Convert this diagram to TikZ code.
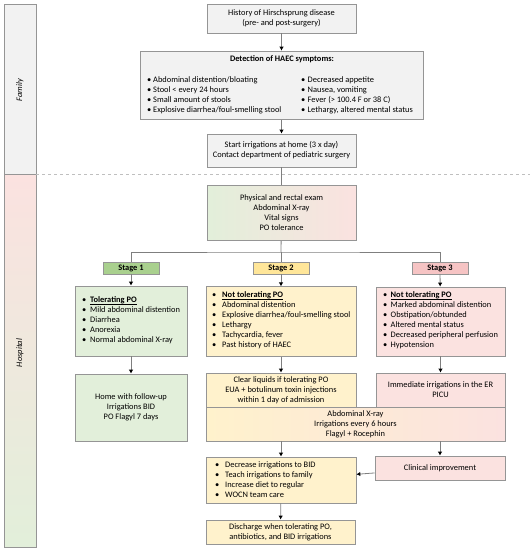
\documentclass[tikz,border=0pt]{standalone}
\usepackage{fontspec}
\setmainfont{Carlito}
\usepackage{tikz}
\usetikzlibrary{arrows.meta}
\usepackage{xcolor}
\definecolor{linegray}{HTML}{7F7F7F}
\definecolor{edgegray}{HTML}{959595}
\definecolor{grayfill}{HTML}{F2F2F2}
\definecolor{greenfill}{HTML}{E2EFDA}
\definecolor{yellowfill}{HTML}{FFF2CC}
\definecolor{redfill}{HTML}{FBE2E0}
\definecolor{stageone}{HTML}{A9D08E}
\definecolor{stagetwo}{HTML}{FFE699}
\definecolor{stagethree}{HTML}{F6C4C4}
\newcommand{\itemdot}[1][8pt]{\makebox[#1][l]{\textbullet}}
\newcommand{\headpo}[1]{\underline{\smash{\textbf{#1}}}}

\begin{document}
\begin{tikzpicture}[x=1pt, y=-1pt,
  txt/.style={font=\fontsize{8.4}{9.95}\selectfont},
  pbox/.style={txt, draw=edgegray, line width=0.7pt, inner ysep=0pt, align=center},
  list/.style={txt, anchor=west, align=left, inner sep=0pt},
  stagelabel/.style={pbox, font=\fontsize{8.4}{9.95}\selectfont\bfseries, minimum width=56pt, minimum height=12pt},
  link/.style={draw=linegray, line width=0.8pt},
  flow/.style={link, -{Latex[length=4pt,width=4.5pt,color=black]}}]
\useasboundingbox (0,0) rectangle (530,550);

\draw[draw=edgegray, fill=grayfill] (4,4) rectangle (36,174);
\draw[draw=edgegray, top color=redfill, middle color=yellowfill, bottom color=greenfill] (4,174) rectangle (36,547);
\draw[gray!50, dashed, line width=0.7pt] (36,174) -- (530,174);
\node[txt, rotate=90, font=\fontsize{8.4}{9.95}\selectfont\itshape] (family) at (20,90) {Family};
\node[txt, rotate=90, font=\fontsize{8.4}{9.95}\selectfont\itshape] (hospital) at (20,353) {Hospital};

\node[pbox, fill=grayfill, minimum width=149pt, minimum height=28.5pt] (hist) at (281.5,18.7)
  {History of Hirschsprung disease\\(pre- and post-surgery)};
\node[pbox, fill=grayfill, minimum width=283pt, minimum height=68.5pt] (detect) at (281.5,85.3) {};
\node[txt, font=\fontsize{8.4}{9.95}\selectfont\bfseries, inner sep=0] (dettitle) at (282,59.5) {Detection of HAEC symptoms:};
\node[list] (detleft) at (147,95.5)
  {\itemdot[6pt]Abdominal distention/bloating\\\itemdot[6pt]Stool < every 24 hours\\
   \itemdot[6pt]Small amount of stools\\\itemdot[6pt]Explosive diarrhea/foul-smelling stool};
\node[list] (detright) at (301,95.5)
  {\itemdot[6.5pt]Decreased appetite\\\itemdot[6.5pt]Nausea, vomiting\\
   \itemdot[6.5pt]Fever (> 100.4 F or 38 C)\\\itemdot[6.5pt]Lethargy, altered mental status};
\node[pbox, fill=grayfill, minimum width=149pt, minimum height=33pt] (start) at (281.5,150.5)
  {Start irrigations at home (3 x day)\\Contact department of pediatric surgery};
\node[pbox, left color=greenfill, middle color=yellowfill, right color=redfill, minimum width=149pt, minimum height=55.5pt] (phys) at (281.5,213)
  {Physical and rectal exam\\Abdominal X-ray\\Vital signs\\PO tolerance};
\coordinate (branch) at (281,252);

\node[stagelabel, fill=stageone] (stage1) at (131,268) {Stage 1};
\node[stagelabel, fill=stagetwo] (stage2) at (281,268) {Stage 2};
\node[stagelabel, fill=stagethree] (stage3) at (440,268) {Stage 3};

\node[pbox, fill=greenfill, minimum width=112pt, minimum height=70pt] (s1box) at (131,321) {};
\node[list] (s1text) at (82,321)
  {\itemdot\headpo{Tolerating PO}\\\itemdot Mild abdominal distention\\\itemdot Diarrhea\\
   \itemdot Anorexia\\\itemdot Normal abdominal X-ray};
\node[pbox, fill=greenfill, minimum width=112pt, minimum height=67pt] (home) at (131,407.5)
  {Home with follow-up\\Irrigations BID\\PO Flagyl 7 days};

\node[pbox, fill=yellowfill, minimum width=150pt, minimum height=69.5pt] (s2box) at (281,321.5) {};
\node[list] (s2text) at (212,321.5)
  {\itemdot[10pt]\headpo{Not tolerating PO}\\\itemdot[10pt]Abdominal distention\\\itemdot[10pt]Explosive diarrhea/foul-smelling stool\\
   \itemdot[10pt]Lethargy\\\itemdot[10pt]Tachycardia, fever\\\itemdot[10pt]Past history of HAEC};
\node[pbox, left color=yellowfill, right color=redfill, minimum width=299pt, minimum height=34pt] (combo) at (355.5,424)
  {Abdominal X-ray\\Irrigations every 6 hours\\Flagyl + Rocephin};
\node[pbox, fill=yellowfill, minimum width=150pt, minimum height=34pt] (clear) at (281,390)
  {Clear liquids if tolerating PO\\EUA + botulinum toxin injections\\within 1 day of admission};

\node[pbox, fill=redfill, minimum width=129pt, minimum height=69pt] (s3box) at (440.5,321.5) {};
\node[list] (s3text) at (383,321.5)
  {\itemdot[7.5pt]\headpo{Not tolerating PO}\\\itemdot[7.5pt]Marked abdominal distention\\\itemdot[7.5pt]Obstipation/obtunded\\
   \itemdot[7.5pt]Altered mental status\\\itemdot[7.5pt]Decreased peripheral perfusion\\\itemdot[7.5pt]Hypotension};
\node[pbox, fill=redfill, minimum width=129pt, minimum height=34pt] (immed) at (440.5,390)
  {Immediate irrigations in the ER\\PICU};

\node[pbox, fill=yellowfill, minimum width=150pt, minimum height=46pt] (decr) at (281,480) {};
\node[list] (decrtext) at (215,480)
  {\itemdot[10pt]Decrease irrigations to BID\\\itemdot[10pt]Teach irrigations to family\\
   \itemdot[10pt]Increase diet to regular\\\itemdot[10pt]WOCN team care};
\node[pbox, fill=redfill, minimum width=130pt, minimum height=24pt] (clin) at (440,468) {Clinical improvement};
\node[pbox, fill=yellowfill, minimum width=149pt, minimum height=24pt] (disch) at (280.5,532)
  {Discharge when tolerating PO,\\antibiotics, and BID irrigations};

\draw[flow] (hist) -- (detect);
\draw[flow] (detect) -- (start);
\draw[link] (start) -- (phys);
\draw[link] (phys) -- (branch);
\draw[link] (stage1.north) |- (branch) -| (stage3.north);
\draw[link] (branch) -- (stage2.north);
\draw[flow] (stage1) -- (s1box);
\draw[flow] (stage2) -- (s2box);
\draw[flow] (stage3) -- (s3box);
\draw[flow] (s1box) -- (home);
\draw[flow] (s2box) -- (clear);
\draw[flow] (s3box) -- (immed);
\draw[flow] (decr.north |- combo.south) -- (decr.north);
\draw[flow] (clin.north |- combo.south) -- (clin.north);
\draw[flow] (clin) -- (decr);
\draw[flow] (decr) -- (disch);
\end{tikzpicture}
\end{document}
